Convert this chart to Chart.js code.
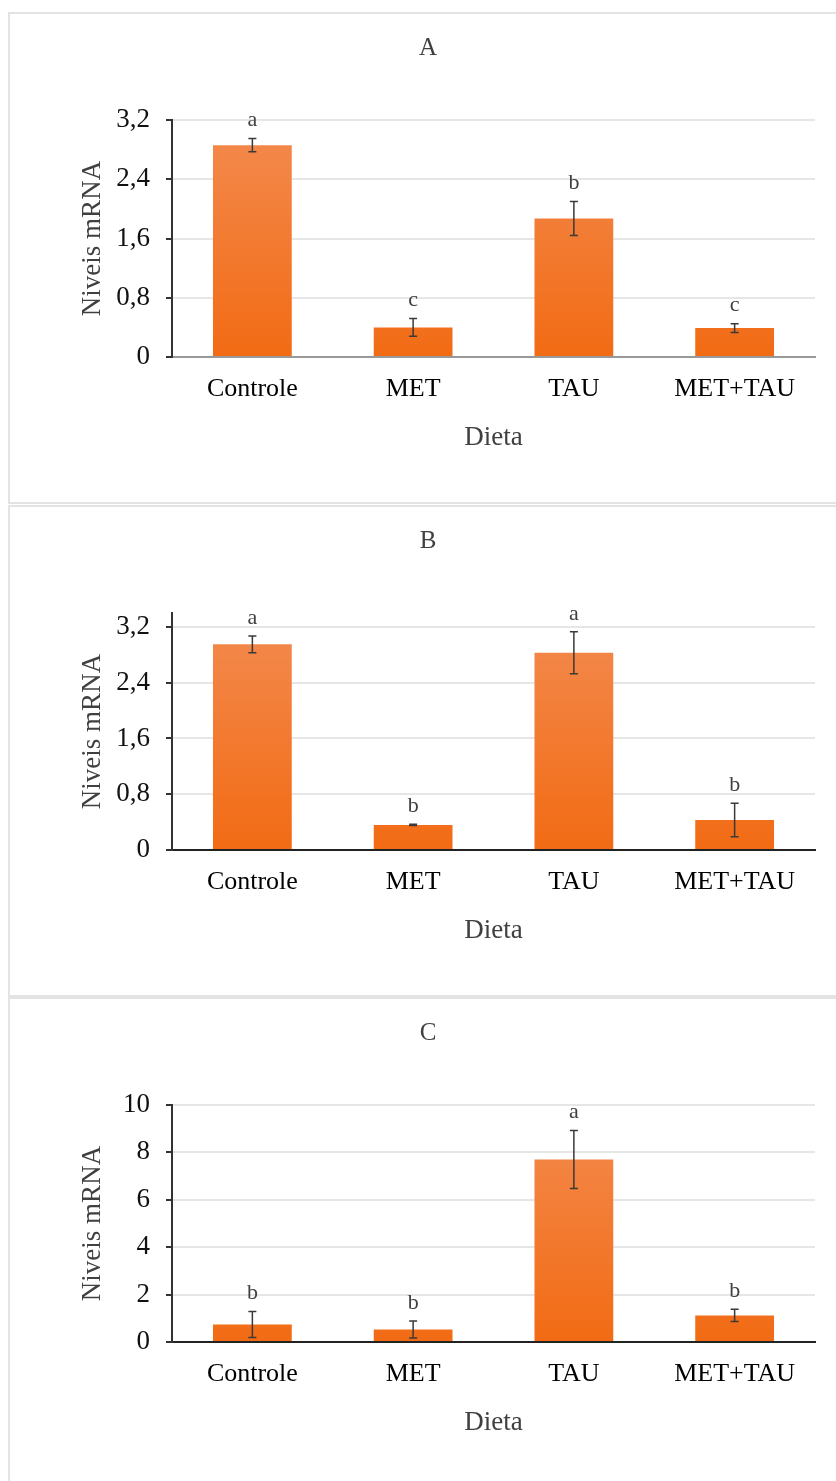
<!DOCTYPE html>
<html>
<head>
<meta charset="utf-8">
<script src="https://cdn.jsdelivr.net/npm/chart.js@4.4.1/dist/chart.umd.min.js"></script>
<style>
  html, body { margin: 0; padding: 0; background: #fff; width: 836px; height: 1481px; overflow: hidden; }
  .frame { position: absolute; left: 8px; width: 900px; border: 2px solid #e3e3e3; box-sizing: border-box; }
  canvas { position: absolute; left: 0; }
</style>
</head>
<body>
<div class="frame" style="top:12px;height:492px"></div>
<div class="frame" style="top:505px;height:492px"></div>
<div class="frame" style="top:997px;height:500px"></div>
<canvas id="chartA" width="836" height="491" style="top:12px"></canvas>
<canvas id="chartB" width="836" height="491" style="top:505px"></canvas>
<canvas id="chartC" width="836" height="491" style="top:997px"></canvas>

<script>
// ===================== DATA ===================== //
const categories = ["Controle", "MET", "TAU", "MET+TAU"];

const valuesA = [2.86, 0.40, 1.87, 0.39];
const errorsA = [0.09, 0.12, 0.23, 0.06];
const lettersA = ["a", "c", "b", "c"];

const valuesB = [2.95, 0.36, 2.83, 0.43];
const errorsB = [0.12, 0.01, 0.30, 0.24];
const lettersB = ["a", "b", "a", "b"];

const valuesC = [0.74, 0.53, 7.70, 1.12];
const errorsC = [0.55, 0.36, 1.22, 0.26];
const lettersC = ["b", "b", "a", "b"];

const ticksAB = [0, 0.8, 1.6, 2.4, 3.2];
const ticksC = [0, 2, 4, 6, 8, 10];

const serif = "'Liberation Serif', 'Times New Roman', serif";


// ===================== BAR FILL ===================== //
function barFill(context) {
    const area = context.chart.chartArea;
    if (!area) return "#f47a2b";
    const g = context.chart.ctx.createLinearGradient(0, area.top, 0, area.bottom);
    g.addColorStop(0, "#f38b50");
    g.addColorStop(1, "#f26b14");
    return g;
}


// ===================== ERROR BARS + LETTERS ===================== //
const errorBars = {
    id: "errorBars",
    afterDatasetsDraw(chart) {
        const ds = chart.data.datasets[0];
        const y = chart.scales.y;
        const ctx = chart.ctx;
        ctx.save();
        chart.getDatasetMeta(0).data.forEach((bar, i) => {
            const top = y.getPixelForValue(ds.data[i] + ds.errors[i]);
            const bot = y.getPixelForValue(Math.max(ds.data[i] - ds.errors[i], 0));

            ctx.strokeStyle = "#3a3a3a";
            ctx.lineWidth = 1.5;
            ctx.beginPath();
            ctx.moveTo(bar.x, top);
            ctx.lineTo(bar.x, bot);
            ctx.moveTo(bar.x - 4, top);
            ctx.lineTo(bar.x + 4, top);
            ctx.moveTo(bar.x - 4, bot);
            ctx.lineTo(bar.x + 4, bot);
            ctx.stroke();

            ctx.fillStyle = "#404040";
            ctx.font = "22px " + serif;
            ctx.textAlign = "center";
            ctx.textBaseline = "middle";
            ctx.fillText(ds.letters[i], bar.x, top - 18);
        });
        ctx.restore();
    }
};


// ===================== CHART SETUP ===================== //
function makeChart(id, title, values, errors, letters, tickValues, yMax, xAxisColor) {
    return new Chart(document.getElementById(id), {
        type: "bar",
        data: {
            labels: categories,
            datasets: [{
                data: values,
                errors: errors,
                letters: letters,
                backgroundColor: barFill,
                barPercentage: 0.49,
                categoryPercentage: 1
            }]
        },
        options: {
            responsive: false,
            animation: false,
            layout: { padding: { left: 41, right: 21, top: 0, bottom: 0 } },
            plugins: {
                legend: { display: false },
                tooltip: { enabled: false },
                title: {
                    display: true,
                    text: title,
                    color: "#404040",
                    font: { family: serif, size: 25, weight: "normal" },
                    padding: { top: 21, bottom: 57 }
                }
            },
            scales: {
                x: {
                    grid: { display: false, drawTicks: false },
                    border: { color: xAxisColor, width: 2 },
                    ticks: { color: "#000", font: { family: serif, size: 26 }, padding: 17 },
                    title: {
                        display: true,
                        text: "Dieta",
                        color: "#404040",
                        font: { family: serif, size: 27 },
                        padding: { top: 0, bottom: 49 }
                    },
                    afterFit: (s) => { s.height = 146; }
                },
                y: {
                    min: 0,
                    max: yMax,
                    afterBuildTicks: (s) => { s.ticks = tickValues.map(v => ({ value: v })); },
                    grid: { color: "#e6e6e6", lineWidth: 2, tickColor: "#333", tickLength: 6 },
                    border: { color: "#333", width: 2 },
                    ticks: {
                        color: "#111",
                        font: { family: serif, size: 27 },
                        padding: 16,
                        callback: (v) => String(v).replace(".", ",")
                    },
                    title: {
                        display: true,
                        text: "Niveis mRNA",
                        color: "#404040",
                        font: { family: serif, size: 27 },
                        padding: { top: 36, bottom: 0 }
                    },
                    afterFit: (s) => { s.width = 131; }
                }
            }
        },
        plugins: [errorBars]
    });
}

makeChart("chartA", "A", valuesA, errorsA, lettersA, ticksAB, 3.2, "#999");
makeChart("chartB", "B", valuesB, errorsB, lettersB, ticksAB, 3.4, "#222");
makeChart("chartC", "C", valuesC, errorsC, lettersC, ticksC, 10, "#222");
</script>
</body>
</html>
